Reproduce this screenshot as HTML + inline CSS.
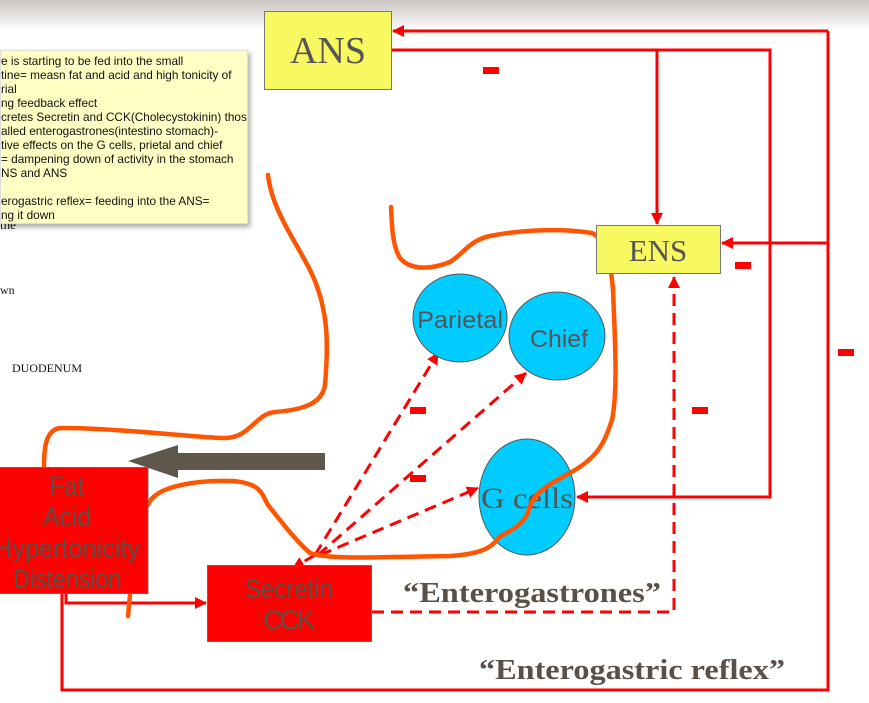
<!DOCTYPE html>
<html><head><meta charset="utf-8"><style>
html,body{margin:0;padding:0;background:#fff;}
body{width:869px;height:703px;overflow:hidden;position:relative;font-family:"Liberation Sans",sans-serif;}
.note{position:absolute;left:0;top:50px;width:248px;height:174px;background:#ffffc4;border:1px solid #ddd;box-shadow:2px 3px 5px rgba(0,0,0,.35);font-size:11.8px;line-height:14px;color:#111;padding-top:3px;box-sizing:border-box;white-space:nowrap;overflow:hidden;}
</style></head><body>
<svg width="869" height="703" style="position:absolute;left:0;top:0">
<defs>
<linearGradient id="tg" x1="0" y1="0" x2="0" y2="1"><stop offset="0" stop-color="#c8c4c0"/><stop offset="1" stop-color="#fff"/></linearGradient>
<marker id="ar2" markerWidth="12" markerHeight="12" refX="11" refY="6" orient="auto" markerUnits="userSpaceOnUse"><path d="M0,0 L12,6 L0,12 z" fill="#f00"/></marker>
</defs>
<rect x="0" y="0" width="869" height="30" fill="url(#tg)"/>
<text x="12" y="372" font-family="Liberation Serif" font-size="12" fill="#111">DUODENUM</text>
<text x="0" y="294" font-family="Liberation Serif" font-size="12" fill="#111">wn</text>
<text x="0" y="229" font-family="Liberation Serif" font-size="13" fill="#111">the</text>
<g stroke="#f00" stroke-width="3" fill="none">
<polyline points="828,31 828,690 62,690 62,593"/>
<line x1="828" y1="31" x2="393" y2="31" marker-end="url(#ar2)"/>
<polyline points="391,50 770,50 770,497 577,497" marker-end="url(#ar2)"/>
<line x1="657" y1="50" x2="657" y2="224" marker-end="url(#ar2)"/>
<line x1="828" y1="243" x2="722" y2="243" marker-end="url(#ar2)"/>
<polyline points="66,593 66,603 206,603" marker-end="url(#ar2)"/>
</g>
<g stroke="#f00" stroke-width="3" fill="none" stroke-dasharray="12,7">
<polyline points="372,612 674,612 674,277" marker-end="url(#ar2)"/>
<line x1="315" y1="555" x2="438" y2="353" marker-end="url(#ar2)"/>
<line x1="318" y1="555" x2="526" y2="373" marker-end="url(#ar2)"/>
<line x1="320" y1="555" x2="478" y2="488" marker-end="url(#ar2)"/>
<line x1="315" y1="555" x2="293" y2="568" marker-end="url(#ar2)"/>
</g>
<g fill="#f00">
<rect x="483" y="67" width="16" height="7"/>
<rect x="735" y="262" width="16" height="7"/>
<rect x="838" y="349" width="16" height="7"/>
<rect x="410" y="407" width="16" height="7"/>
<rect x="410" y="475" width="16" height="7"/>
<rect x="692" y="407" width="16" height="7"/>
</g>
<g fill="#00ccff" stroke="#555" stroke-width="1">
<ellipse cx="460" cy="318" rx="47" ry="44"/>
<ellipse cx="557" cy="336" rx="48" ry="44"/>
<ellipse cx="527" cy="497" rx="48" ry="58"/>
</g>
<text x="460" y="328" text-anchor="middle" font-size="24" fill="#555" textLength="86" lengthAdjust="spacingAndGlyphs">Parietal</text>
<text x="559" y="347" text-anchor="middle" font-size="24" fill="#555" textLength="58" lengthAdjust="spacingAndGlyphs">Chief</text>
<text x="527" y="508" text-anchor="middle" font-family="Liberation Serif" font-size="30" fill="#555" textLength="92" lengthAdjust="spacingAndGlyphs">G cells</text>
<g stroke="#ff5500" stroke-width="4.5" fill="none" stroke-linecap="round" stroke-linejoin="round">
<path d="M268,175 C272,210 295,240 310,270 C330,310 328,350 325,385 C322,405 300,410 275,412 C255,414 250,438 225,438 C200,438 120,428 60,428 C45,430 44,450 44,467"/>
<path d="M130,595 L128,616"/>
<path d="M148,505 C155,485 200,480 232,481 C262,483 262,495 268,505 C280,520 295,540 310,553 C330,560 380,557 450,556 C480,554 492,548 498,538 C510,530 520,528 528,513 C532,490 555,482 575,470 C600,455 605,440 612,420 C618,390 615,340 613,290 C610,255 605,240 592,233 C560,228 520,230 490,236 C470,240 462,255 450,262 C430,270 410,270 400,258 C392,245 392,225 391,207"/>
</g>
<polygon points="128,461 178,445 178,453 325,453 325,470 178,470 178,478" fill="#5f564c"/>
<rect x="264.5" y="11.5" width="127" height="78" fill="#f8f860" stroke="#777"/>
<text x="328" y="63" text-anchor="middle" font-family="Liberation Serif" font-size="38" fill="#555">ANS</text>
<rect x="596.5" y="225.5" width="124" height="48" fill="#f8f860" stroke="#777"/>
<text x="658" y="261" text-anchor="middle" font-family="Liberation Serif" font-size="31" fill="#555">ENS</text>
<rect x="-1" y="467.5" width="149" height="126" fill="#f00" stroke="#666"/>
<g font-size="27" fill="#5a5048" text-anchor="middle">
<text x="67" y="495" textLength="34" lengthAdjust="spacingAndGlyphs">Fat</text>
<text x="67" y="526" textLength="48" lengthAdjust="spacingAndGlyphs">Acid</text>
<text x="67" y="557" textLength="146" lengthAdjust="spacingAndGlyphs">Hypertonicity</text>
<text x="67" y="588" textLength="108" lengthAdjust="spacingAndGlyphs">Distension</text>
</g>
<rect x="207.5" y="565.5" width="164" height="76" fill="#f00" stroke="#666"/>
<g font-size="27" fill="#5a5048" text-anchor="middle">
<text x="289" y="598" textLength="88" lengthAdjust="spacingAndGlyphs">Secretin</text>
<text x="289" y="629" textLength="52" lengthAdjust="spacing">CCK</text>
</g>
<g font-family="Liberation Serif" font-weight="bold" font-size="29" fill="#5a5048">
<text x="403" y="602" textLength="258" lengthAdjust="spacingAndGlyphs">“Enterogastrones”</text>
<text x="479" y="679" textLength="306" lengthAdjust="spacingAndGlyphs">“Enterogastric reflex”</text>
</g>
</svg>
<div class="note">
<div>e is starting to be fed into the small</div>
<div>tine= measn fat and acid and high tonicity of</div>
<div>rial</div>
<div>ng feedback effect</div>
<div>cretes Secretin and CCK(Cholecystokinin) those</div>
<div>alled enterogastrones(intestino stomach)-</div>
<div>tive effects on the G cells, prietal and chief</div>
<div>= dampening down of activity in the stomach</div>
<div>NS and ANS</div>
<div>&nbsp;</div>
<div>erogastric reflex= feeding into the ANS=</div>
<div>ng it down</div>
</div>
</body></html>
